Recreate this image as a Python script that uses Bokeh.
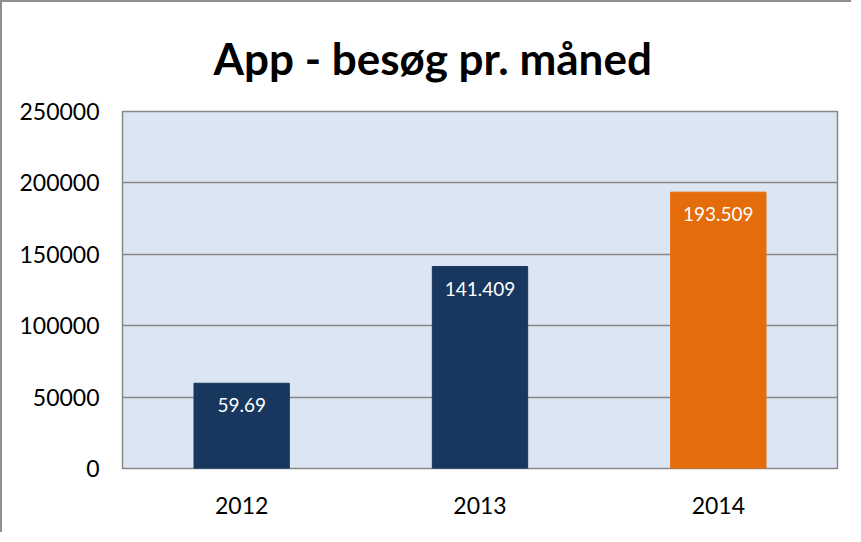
from bokeh.plotting import figure
from bokeh.models import ColumnDataSource, FixedTicker, NumeralTickFormatter, Range1d
from bokeh.embed import file_html
from bokeh.resources import INLINE

title_text = "App - besøg pr. måned"
years = ["2012", "2013", "2014"]
visits = [59690, 141409, 193509]
value_labels = ["59.69", "141.409", "193.509"]
bar_colors = ["#17375E", "#17375E", "#E46C0A"]
y_ticks = [0, 50000, 100000, 150000, 200000, 250000]

src = ColumnDataSource(dict(year=years, visits=visits, label=value_labels, color=bar_colors))

p = figure(x_range=years, y_range=Range1d(0, 250000), width=851, height=532,
           output_backend="svg", toolbar_location=None, title=title_text,
           min_border_left=120, min_border_right=16, min_border_top=108, min_border_bottom=66)
p.styles = {"border-left": "2px solid #8f8f8f", "border-top": "2px solid #8f8f8f"}

p.title.text_font = "Lato"
p.title.text_font_size = "44px"
p.title.text_font_style = "bold"
p.title.text_color = "black"
p.title.align = "left"
p.title.standoff = 55
p.title.offset = 91

p.background_fill_color = "#DCE6F2"
p.border_fill_color = "white"
p.outline_line_color = "#888888"
p.outline_line_width = 1.5

p.vbar(x="year", top="visits", width=0.4, color="color", source=src)
p.text(x="year", y="visits", text="label", source=src, text_color="white",
       text_font_size="19px", text_align="center", text_baseline="top", y_offset=15,
       text_font={"value": "Lato"})

p.xgrid.grid_line_color = None
p.ygrid.grid_line_color = "#888888"
p.ygrid.grid_line_width = 1.5
p.yaxis.ticker = FixedTicker(ticks=y_ticks)
p.yaxis.formatter = NumeralTickFormatter(format="0")

for ax in (p.xaxis[0], p.yaxis[0]):
    ax.axis_line_color = None
    ax.major_tick_line_color = None
    ax.minor_tick_line_color = None
    ax.major_label_text_font = "Lato"
    ax.major_label_text_font_size = "23px"
    ax.major_label_text_color = "black"
p.yaxis.major_label_standoff = 17
p.xaxis.major_label_standoff = 22

open("out.html", "w").write(file_html(p, INLINE))
